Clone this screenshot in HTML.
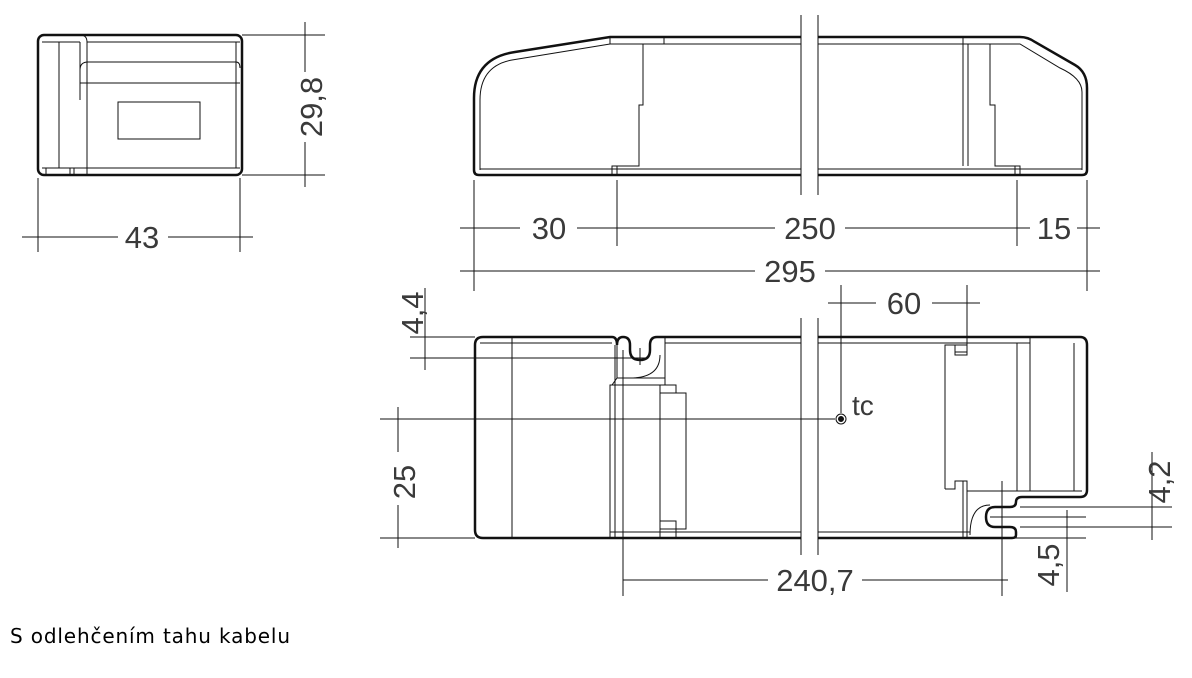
<!DOCTYPE html>
<html><head><meta charset="utf-8"><style>
html,body{margin:0;padding:0;background:#fff;}
svg{display:block;}
text{font-family:"Liberation Sans",sans-serif;fill:#3a3a3a;}
</style></head><body>
<svg width="1192" height="678" viewBox="0 0 1192 678" xmlns="http://www.w3.org/2000/svg">
<g fill="none" stroke="#111" stroke-width="1">
<rect x="38" y="35" width="204" height="140" rx="6" stroke-width="2.5"/>
<line x1="42" y1="42" x2="80" y2="42"/>
<line x1="59" y1="42" x2="59" y2="168"/>
<path d="M80 35 Q87 35 87 42 L87 175"/>
<path d="M80 42 L80 100"/>
<line x1="87" y1="42" x2="240" y2="42"/>
<path d="M80 70 Q80 62 88 62 L236 62 Q240 62 240 68"/>
<line x1="80" y1="83" x2="240" y2="83"/>
<line x1="236" y1="42" x2="236" y2="168"/>
<line x1="42" y1="168" x2="240" y2="168"/>
<rect x="118" y="102" width="82" height="37"/>
<line x1="46" y1="168" x2="46" y2="175"/><line x1="70" y1="168" x2="70" y2="175"/><line x1="74" y1="168" x2="74" y2="175"/>
<line x1="38" y1="178" x2="38" y2="252"/><line x1="240" y1="178" x2="240" y2="252"/>
<line x1="22" y1="237" x2="118" y2="237"/><line x1="168" y1="237" x2="253" y2="237"/>
<line x1="242" y1="35" x2="325" y2="35"/><line x1="242" y1="175" x2="325" y2="175"/>
<line x1="305" y1="22" x2="305" y2="72"/><line x1="305" y1="142" x2="305" y2="187"/>

<path d="M474 170 L474 98 Q474 58 515 52 L610 37 L1020 37 Q1028 37 1035 42 L1075 65 Q1087 72 1087 88 L1087 170 Q1087 175 1082 175 L479 175 Q474 175 474 170 Z" stroke-width="2.5"/>
<path d="M480 170 L480 100 Q480 66 512 60 L610 44 L1020 44 L1060 68 Q1082 78 1082 92 L1082 170"/>
<line x1="480" y1="169" x2="1082" y2="169"/>
<line x1="610" y1="37" x2="610" y2="44"/>
<line x1="664" y1="37" x2="664" y2="44"/>
<polyline points="643,44 643,105 639,105 639,166 612,166 612,175"/>
<line x1="617" y1="166" x2="617" y2="175"/>
<line x1="963" y1="37" x2="963" y2="166"/>
<line x1="968" y1="44" x2="968" y2="166"/>
<polyline points="990,44 990,105 995,105 995,166 1020,166 1020,175"/>
<line x1="1015" y1="166" x2="1015" y2="175"/>
<rect x="801" y="12" width="17" height="190" fill="#fff" stroke="none"/>
<line x1="801" y1="15" x2="801" y2="195"/><line x1="818" y1="15" x2="818" y2="195"/>
<line x1="474" y1="180" x2="474" y2="291"/><line x1="1087" y1="180" x2="1087" y2="291"/>
<line x1="617" y1="180" x2="617" y2="246"/><line x1="1017" y1="180" x2="1017" y2="246"/>
<line x1="460" y1="228" x2="520" y2="228"/><line x1="577" y1="228" x2="775" y2="228"/>
<line x1="845" y1="228" x2="1030" y2="228"/><line x1="1077" y1="228" x2="1100" y2="228"/>
<line x1="460" y1="271" x2="755" y2="271"/><line x1="825" y1="271" x2="1100" y2="271"/>

<path d="M475 345 Q475 337 483 337 L612 337 Q617 337 617 345 Q617 337 623 337 Q630 337 630 345 L630 350 Q630 360 640 360 Q650 360 650 350 L650 345 Q650 337 657 337 L1080 337 Q1087 337 1087 345 L1087 490 Q1087 497 1080 497 L1022 497 Q1016 497 1016 502 Q1016 507 1010 507 L995 507 Q986 507 986 517 Q986 527 995 527 L1010 527 Q1016 527 1016 532 L1016 535 Q1016 538 1012 538 L483 538 Q475 538 475 530 Z" stroke-width="2.5" fill="#fff"/>
<line x1="480" y1="343" x2="612" y2="343"/>
<line x1="512" y1="337" x2="512" y2="538"/>
<line x1="615" y1="345" x2="615" y2="538"/>
<path d="M617 378 L612 385 M617 345 L617 378 L665 378 L665 345"/>
<path d="M630 378 Q660 378 660 355"/>
<line x1="665" y1="343" x2="1030" y2="343"/>
<line x1="665" y1="337" x2="665" y2="385"/>
<rect x="610" y="385" width="50" height="153"/>
<polyline points="660,385 676,385 676,393 686,393 686,529 676,529 676,538"/>
<rect x="660" y="385" width="16" height="8"/>
<rect x="660" y="521" width="16" height="8"/>
<line x1="610" y1="532" x2="970" y2="532"/>
<polyline points="945,489 945,345 955,345 955,352 967,352 967,343"/>
<rect x="955" y="345" width="12" height="10"/>
<polyline points="945,489 955,489 955,481 967,481 967,538"/>
<line x1="963" y1="481" x2="963" y2="538"/>
<line x1="967" y1="491" x2="1082" y2="491"/>
<line x1="1017" y1="343" x2="1017" y2="491"/>
<line x1="1030" y1="337" x2="1030" y2="491"/>
<line x1="1074" y1="343" x2="1074" y2="491"/>
<path d="M970 535 Q970 505 990 505"/>
<rect x="801" y="315" width="17" height="245" fill="#fff" stroke="none"/>
<line x1="801" y1="318" x2="801" y2="555"/><line x1="818" y1="318" x2="818" y2="555"/>
<circle cx="841" cy="419" r="5"/>
<circle cx="841" cy="419" r="2.5" fill="#111"/>
<line x1="380" y1="419" x2="835" y2="419"/>
<line x1="841" y1="285" x2="841" y2="413"/>
<line x1="967" y1="285" x2="967" y2="345"/>
<line x1="828" y1="303" x2="876" y2="303"/><line x1="932" y1="303" x2="980" y2="303"/>
<line x1="380" y1="538" x2="475" y2="538"/>
<line x1="398" y1="407" x2="398" y2="452"/><line x1="398" y1="505" x2="398" y2="548"/>
<line x1="410" y1="337" x2="475" y2="337"/><line x1="410" y1="358" x2="645" y2="358"/>
<line x1="425" y1="288" x2="425" y2="370"/>
<line x1="640" y1="348" x2="640" y2="365"/>
<line x1="623" y1="350" x2="623" y2="596"/><line x1="1002" y1="481" x2="1002" y2="596"/>
<line x1="623" y1="580" x2="768" y2="580"/><line x1="862" y1="580" x2="1008" y2="580"/>
<line x1="1020" y1="507" x2="1172" y2="507"/><line x1="1020" y1="527" x2="1172" y2="527"/>
<line x1="990" y1="517" x2="1086" y2="517"/><line x1="990" y1="538" x2="1086" y2="538"/>
<line x1="1152" y1="452" x2="1152" y2="540"/>
<line x1="1067" y1="510" x2="1067" y2="592"/>
</g>
<g font-size="31">
<text x="142" y="248" text-anchor="middle">43</text>
<text transform="translate(322,107) rotate(-90)" text-anchor="middle">29,8</text>
<text x="549" y="239" text-anchor="middle">30</text>
<text x="810" y="239" text-anchor="middle">250</text>
<text x="1054" y="239" text-anchor="middle">15</text>
<text x="790" y="282" text-anchor="middle">295</text>
<text x="904" y="314" text-anchor="middle">60</text>
<text x="815" y="591" text-anchor="middle">240,7</text>
<text transform="translate(415,482) rotate(-90)" text-anchor="middle">25</text>
<text transform="translate(423,313) rotate(-90)" text-anchor="middle">4,4</text>
<text transform="translate(1170,482) rotate(-90)" text-anchor="middle">4,2</text>
<text transform="translate(1059,565) rotate(-90)" text-anchor="middle">4,5</text>
<text x="852" y="415" font-size="28">tc</text>
</g>
<text x="10" y="643" font-size="20" textLength="280" lengthAdjust="spacing" style="fill:#000;font-family:'DejaVu Sans',sans-serif">S odlehčením tahu kabelu</text>
</svg>
</body></html>
